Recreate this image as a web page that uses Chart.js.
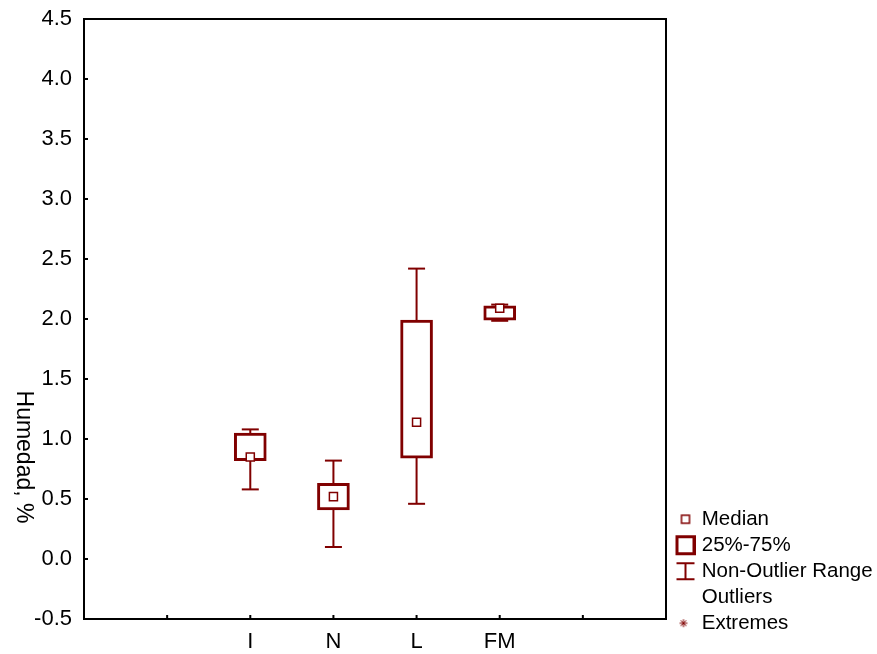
<!DOCTYPE html>
<html>
<head>
<meta charset="utf-8">
<title>Humedad, %</title>
<script src="https://cdn.jsdelivr.net/npm/chart.js@4.4.0/dist/chart.umd.min.js"></script>
<style>
    html, body { margin: 0; padding: 0; background: #fff; }
    #wrap { width: 877px; height: 654px; }
</style>
</head>
<body>
<div id="wrap"><canvas id="chartBox"></canvas></div>
<script>
// values
const groups = ['I', 'N', 'L', 'FM'];
const groupX = [2, 3, 4, 5];
const medians = [0.85, 0.52, 1.14, 2.09];
const q1 = [0.82, 0.41, 0.84, 1.99];
const q3 = [1.05, 0.63, 1.99, 2.11];
const whiskerLow = [0.58, 0.10, 0.46, 1.985];
const whiskerHigh = [1.08, 0.82, 2.42, 2.12];
const legendNames = ['Median', '25%-75%', 'Non-Outlier Range', 'Outliers', 'Extremes'];
const yTitle = 'Humedad, %';

const red = '#800000';
const font = '"Liberation Sans", Arial, sans-serif';

// whisker segments, broken by nulls between groups
const whiskerData = [];
groupX.forEach((x, i) => {
    whiskerData.push({x: x, y: whiskerLow[i]}, {x: x, y: whiskerHigh[i]}, {x: x, y: null});
});
const capData = [];
groupX.forEach((x, i) => {
    capData.push({x: x, y: whiskerLow[i]}, {x: x, y: whiskerHigh[i]});
});
const boxData = groupX.map((x, i) => ({x: x, y: [q1[i], q3[i]]}));
const medianData = groupX.map((x, i) => ({x: x, y: medians[i]}));

// legend symbols
function icon(draw) {
    const c = document.createElement('canvas');
    c.width = 28;
    c.height = 22;
    const g = c.getContext('2d');
    g.strokeStyle = red;
    draw(g);
    return c;
}
const legendIcons = [
    icon(g => { g.lineWidth = 1.5; g.strokeRect(14, 7, 8, 8); }),
    icon(g => { g.lineWidth = 3; g.strokeRect(9.5, 2.5, 17, 17); }),
    icon(g => {
        g.lineWidth = 2;
        g.beginPath();
        g.moveTo(9, 3); g.lineTo(27, 3);
        g.moveTo(18, 3); g.lineTo(18, 19);
        g.moveTo(9, 19); g.lineTo(27, 19);
        g.stroke();
    }),
    icon(g => {}),
    icon(g => {
        g.lineWidth = 1;
        g.beginPath();
        g.moveTo(16, 7); g.lineTo(16, 15);
        g.moveTo(12, 11); g.lineTo(20, 11);
        g.moveTo(13.2, 8.2); g.lineTo(18.8, 13.8);
        g.moveTo(18.8, 8.2); g.lineTo(13.2, 13.8);
        g.stroke();
    })
];

const framePlugin = {
    id: 'frame',
    afterLayout(chart) {
        // push legend rows down to where the picture has them
        const lg = chart.legend;
        lg.top += 20;
        lg.bottom += 20;
    },
    afterDraw(chart) {
        const {ctx, chartArea: a, scales: {x, y}} = chart;
        ctx.save();
        ctx.strokeStyle = '#000';
        ctx.lineWidth = 2;
        ctx.strokeRect(a.left, a.top, a.right - a.left, a.bottom - a.top);
        ctx.beginPath();
        y.ticks.forEach(t => {
            const py = y.getPixelForValue(t.value);
            ctx.moveTo(a.left, py);
            ctx.lineTo(a.left + 4, py);
        });
        x.ticks.forEach(t => {
            const px = x.getPixelForValue(t.value);
            ctx.moveTo(px, a.bottom);
            ctx.lineTo(px, a.bottom - 4);
        });
        ctx.stroke();
        ctx.translate(23, 457);
        ctx.rotate(Math.PI / 2);
        ctx.font = '23px ' + font;
        ctx.fillStyle = '#000';
        ctx.textAlign = 'center';
        ctx.textBaseline = 'middle';
        ctx.fillText(yTitle, 0, 0);
        ctx.restore();
    }
};

const ctx = document.getElementById('chartBox').getContext('2d');
const myChart = new Chart(ctx, {
    type: 'bar',
    data: {
        datasets: [{
            type: 'line',
            label: 'whiskers',
            data: whiskerData,
            borderColor: red,
            borderWidth: 2,
            pointRadius: 0,
            spanGaps: false,
            order: 4
        }, {
            type: 'scatter',
            label: 'caps',
            data: capData,
            pointStyle: 'line',
            pointRadius: 8.5,
            borderColor: red,
            borderWidth: 2,
            order: 3
        }, {
            type: 'bar',
            label: 'box',
            data: boxData,
            backgroundColor: '#fff',
            borderColor: red,
            borderWidth: 3,
            borderSkipped: false,
            barThickness: 32,
            order: 2
        }, {
            type: 'scatter',
            label: 'median',
            data: medianData,
            pointStyle: 'rect',
            pointRadius: 5.7,
            backgroundColor: '#fff',
            borderColor: red,
            borderWidth: 1.5,
            order: 1
        }]
    },
    options: {
        responsive: true,
        maintainAspectRatio: false,
        animation: false,
        layout: {padding: {top: 19, left: 0, right: 0, bottom: 0}},
        plugins: {
            tooltip: {enabled: false},
            legend: {
                position: 'right',
                align: 'end',
                fullSize: false,
                maxWidth: 211,
                onClick: null,
                labels: {
                    usePointStyle: true,
                    pointStyleWidth: 20,
                    boxHeight: 20,
                    padding: 5.5,
                    color: '#000',
                    font: {family: font, size: 20.5},
                    generateLabels: () => legendNames.map((name, i) => ({
                        text: name,
                        pointStyle: legendIcons[i],
                        fillStyle: 'transparent',
                        strokeStyle: 'transparent',
                        lineWidth: 0,
                        hidden: false,
                        fontColor: '#000'
                    }))
                }
            }
        },
        scales: {
            x: {
                type: 'linear',
                min: 0,
                max: 7,
                offset: false,
                grid: {display: false, drawTicks: false},
                border: {display: false},
                afterFit: s => { s.height = 35; s.paddingLeft = 0; s.paddingRight = 0; },
                ticks: {
                    stepSize: 1,
                    autoSkip: false,
                    maxRotation: 0,
                    padding: 10,
                    color: '#000',
                    font: {family: font, size: 22},
                    callback: v => {
                        const i = groupX.indexOf(v);
                        return i >= 0 ? groups[i] : '';
                    }
                }
            },
            y: {
                min: -0.5,
                max: 4.5,
                grid: {display: false, drawTicks: false},
                border: {display: false},
                afterFit: s => { s.width = 84; s.paddingTop = 0; s.paddingBottom = 0; },
                ticks: {
                    stepSize: 0.5,
                    padding: 12,
                    color: '#000',
                    font: {family: font, size: 22},
                    callback: v => v.toFixed(1)
                }
            }
        }
    },
    plugins: [framePlugin]
});
</script>
</body>
</html>
